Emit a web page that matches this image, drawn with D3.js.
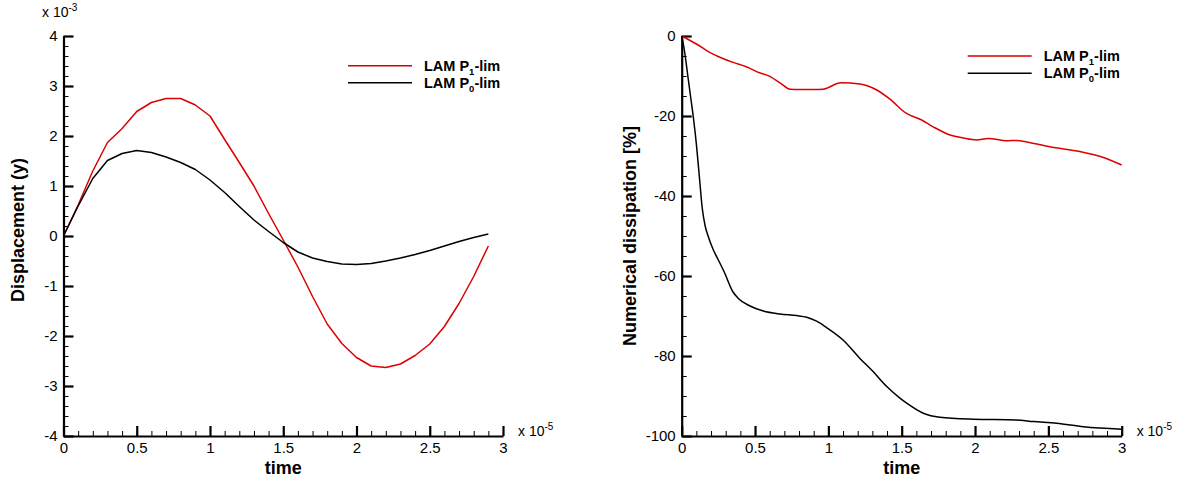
<!DOCTYPE html>
<html>
<head>
<meta charset="utf-8">
<script src="https://cdn.jsdelivr.net/npm/d3@7"></script>
<style>
  html, body { margin: 0; padding: 0; background: #fff; }
  text { font-family: "Liberation Sans", Arial, Helvetica, sans-serif; }
</style>
</head>
<body>
<svg id="chart" width="1189" height="481"></svg>
<script>
// ---------- DATA ----------
const timeTicks = [0, 0.5, 1, 1.5, 2, 2.5, 3];
const dispTicks = [-4, -3, -2, -1, 0, 1, 2, 3, 4];
const dissTicks = [0, -20, -40, -60, -80, -100];

const legendNames = ["LAM P", "LAM P"];
const legendSubs = ["1", "0"];
const legendSuffix = "-lim";
const seriesColors = ["#dd0000", "#000000"];

// Left panel: displacement (x 10^-3) vs time (x 10^-5)
const dispP1Time = [0,0.1,0.2,0.3,0.4,0.5,0.6,0.7,0.8,0.9,1.0,1.1,1.2,1.3,1.4,1.5,1.6,1.7,1.8,1.9,2.0,2.1,2.2,2.3,2.4,2.5,2.6,2.7,2.8,2.9];
const dispP1 = [0,0.62,1.30,1.87,2.15,2.49,2.67,2.75,2.75,2.62,2.40,1.93,1.47,1.00,0.45,-0.08,-0.62,-1.21,-1.76,-2.15,-2.43,-2.60,-2.63,-2.56,-2.39,-2.16,-1.81,-1.35,-0.81,-0.20];
const dispP0Time = [0,0.1,0.2,0.3,0.4,0.5,0.6,0.7,0.8,0.9,1.0,1.1,1.2,1.3,1.4,1.5,1.6,1.7,1.8,1.9,2.0,2.1,2.2,2.3,2.4,2.5,2.6,2.7,2.8,2.9];
const dispP0 = [0,0.60,1.15,1.51,1.65,1.71,1.67,1.58,1.47,1.33,1.12,0.87,0.59,0.32,0.09,-0.13,-0.32,-0.44,-0.51,-0.56,-0.57,-0.55,-0.50,-0.44,-0.37,-0.29,-0.20,-0.11,-0.03,0.04];

// Right panel: numerical dissipation [%] vs time (x 10^-5)
const dissP1Time = [0,0.1,0.2,0.26,0.35,0.44,0.53,0.59,0.67,0.74,0.8,0.9,0.965,1.086,1.215,1.33,1.42,1.53,1.636,1.715,1.83,1.92,2.01,2.09,2.215,2.28,2.37,2.51,2.715,2.87,3.0];
const dissP1 = [0,-2.0,-4.3,-5.3,-6.6,-7.7,-9.2,-9.9,-11.7,-13.3,-13.4,-13.4,-13.3,-11.7,-12.0,-13.5,-15.8,-19.3,-21.0,-22.7,-24.75,-25.5,-26.0,-25.6,-26.2,-26.1,-26.6,-27.7,-28.9,-30.3,-32.25];
const dissP0Time = [0,0.02,0.04,0.06,0.08,0.10,0.12,0.14,0.16,0.18,0.216,0.25,0.29,0.35,0.386,0.466,0.556,0.67,0.784,0.852,0.92,0.988,1.10,1.215,1.30,1.40,1.49,1.534,1.647,1.76,1.99,2.28,2.40,2.556,2.74,3.0];
const dissP0 = [0,-4,-9.5,-15,-20.5,-27,-35,-43,-47.5,-50,-53.5,-56,-59,-64,-65.6,-67.5,-68.75,-69.5,-69.9,-70.3,-71.3,-72.9,-76,-80.6,-83.7,-87.7,-90.6,-91.8,-94.3,-95.3,-95.8,-96,-96.4,-96.8,-97.7,-98.3];

// ---------- DRAW ----------
const svg = d3.select("#chart");
svg.append("rect").attr("width", 1189).attr("height", 481).attr("fill", "#fff");

function drawPanel(cfg) {
  const x = d3.scaleLinear().domain([0, 3]).range([cfg.x0, cfg.x1]);
  const y = d3.scaleLinear().domain(cfg.yDomain).range([cfg.yBottom, cfg.yTop]);
  const g = svg.append("g");

  // minor ticks
  const xMinor = d3.range(0, 3.0001, 0.1).map(v => +v.toFixed(2));
  const yMinor = d3.range(cfg.yDomain[0], cfg.yDomain[1] + 1e-9, cfg.yMinorStep).map(v => +v.toFixed(3));
  g.append("g").attr("transform", `translate(0,${cfg.yBottom})`)
    .call(d3.axisBottom(x).tickValues(xMinor).tickSize(-5).tickFormat(""))
    .call(a => a.select(".domain").remove())
    .call(a => a.selectAll("line").attr("stroke-width", 1));
  g.append("g").attr("transform", `translate(${cfg.x0},0)`)
    .call(d3.axisLeft(y).tickValues(yMinor).tickSize(-5).tickFormat(""))
    .call(a => a.select(".domain").remove())
    .call(a => a.selectAll("line").attr("stroke-width", 1));

  // major axes
  const xa = g.append("g").attr("transform", `translate(0,${cfg.yBottom})`)
    .call(d3.axisBottom(x).tickValues(timeTicks).tickSizeInner(-10).tickSizeOuter(0).tickPadding(6)
      .tickFormat(d => String(d)));
  const ya = g.append("g").attr("transform", `translate(${cfg.x0},0)`)
    .call(d3.axisLeft(y).tickValues(cfg.yTicks).tickSizeInner(-10).tickSizeOuter(0).tickPadding(6)
      .tickFormat(d => String(d)));
  [xa, ya].forEach(a => {
    a.select(".domain").attr("stroke-width", 2.2).attr("stroke", "#000");
    a.selectAll(".tick line").attr("stroke-width", 2.2);
    a.selectAll(".tick text").attr("font-size", 15).attr("fill", "#000")
      .attr("font-family", "Liberation Sans, Arial, sans-serif");
  });

  // lines
  const line = d3.line().x(d => x(d[0])).y(d => y(d[1])).curve(cfg.curve);
  cfg.series.forEach((s, i) => {
    g.append("path")
      .datum(s.t.map((t, k) => [t, s.v[k]]))
      .attr("fill", "none")
      .attr("stroke", seriesColors[i])
      .attr("stroke-width", 1.5)
      .attr("stroke-linejoin", "round")
      .attr("d", line);
  });

  // axis titles
  g.append("text").attr("x", (cfg.x0 + cfg.x1) / 2).attr("y", 474)
    .attr("text-anchor", "middle").attr("font-size", 18).attr("font-weight", "bold").text("time");
  g.append("text")
    .attr("transform", `translate(${cfg.yTitleX},${cfg.yTitleY}) rotate(-90)`)
    .attr("text-anchor", "middle").attr("font-size", 18).attr("font-weight", "bold")
    .text(cfg.yTitle);

  // x multiplier
  const xm = g.append("text").attr("x", cfg.x1 + 15).attr("y", 436).attr("font-size", 14);
  xm.append("tspan").text("x 10");
  xm.append("tspan").attr("dy", -6).attr("font-size", 10).text("-5");

  if (cfg.yMult) {
    const ym = g.append("text").attr("x", 42).attr("y", 17).attr("font-size", 14);
    ym.append("tspan").text("x 10");
    ym.append("tspan").attr("dy", -6).attr("font-size", 10).text(cfg.yMult);
  }

  // legend
  cfg.series.forEach((s, i) => {
    const ly = cfg.legY + i * cfg.legDy;
    g.append("line").attr("x1", cfg.legX).attr("x2", cfg.legX + 64)
      .attr("y1", ly).attr("y2", ly).attr("stroke", seriesColors[i]).attr("stroke-width", 1.5);
    const t = g.append("text").attr("x", cfg.legX + 76).attr("y", ly + 5)
      .attr("font-size", 14.5).attr("font-weight", "bold");
    t.append("tspan").text(legendNames[i]);
    t.append("tspan").attr("dy", 4).attr("font-size", 9.5).text(legendSubs[i]);
    t.append("tspan").attr("dy", -4).text(legendSuffix);
  });
}

drawPanel({
  x0: 63.5, x1: 503, yTop: 36, yBottom: 436,
  yDomain: [-4, 4], yTicks: dispTicks, yMinorStep: 0.2,
  yTitle: "Displacement (y)", yTitleX: 24, yTitleY: 230,
  yMult: "-3",
  curve: d3.curveLinear,
  legX: 348, legY: 65.7, legDy: 17,
  series: [{t: dispP1Time, v: dispP1}, {t: dispP0Time, v: dispP0}]
});

drawPanel({
  x0: 681.7, x1: 1121.7, yTop: 36, yBottom: 436,
  yDomain: [-100, 0], yTicks: dissTicks, yMinorStep: 5,
  yTitle: "Numerical dissipation [%]", yTitleX: 636, yTitleY: 236,
  yMult: null,
  curve: d3.curveMonotoneX,
  legX: 967.7, legY: 56, legDy: 17.3,
  series: [{t: dissP1Time, v: dissP1}, {t: dissP0Time, v: dissP0}]
});
</script>
</body>
</html>
